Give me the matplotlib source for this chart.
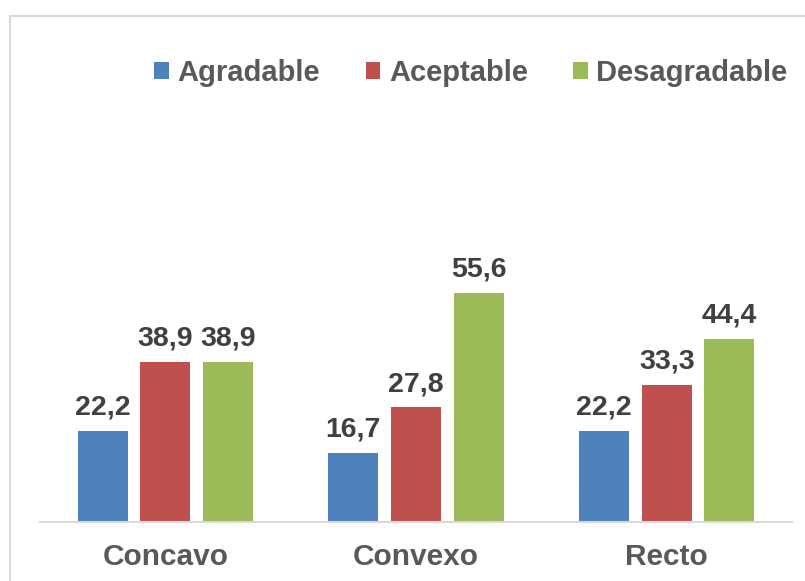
import matplotlib.pyplot as plt
import numpy as np
from matplotlib.patches import Patch, Rectangle

plt.rcParams['font.family'] = ['Liberation Sans', 'DejaVu Sans']

categories = ['Concavo', 'Convexo', 'Recto']
series = ['Agradable', 'Aceptable', 'Desagradable']
agradable = [22.2, 16.7, 22.2]
aceptable = [38.9, 27.8, 33.3]
desagradable = [38.9, 55.6, 44.4]
values = [agradable, aceptable, desagradable]
colors = ['#4F81BD', '#C0504D', '#9BBB59']

W, H = 805, 581
fig = plt.figure(figsize=(W / 100, H / 100), dpi=100)

# plot area in pixels
left_px, right_px, base_px = 40, 792, 522
ymax = 80
px_per_unit = 4.12
top_px = base_px - ymax * px_per_unit
ax = fig.add_axes([left_px / W, 1 - base_px / H,
                   (right_px - left_px) / W, (base_px - top_px) / H])

x = np.arange(len(categories))
width = 0.2
offsets = [-0.25, 0, 0.25]
for vals, off, col in zip(values, offsets, colors):
    bars = ax.bar(x + off, vals, width, color=col)
    for b, v in zip(bars, vals):
        ax.text(b.get_x() + b.get_width() / 2, v + 2.5, f'{v:.1f}'.replace('.', ','),
                ha='center', va='bottom', fontsize=20.5, fontweight='bold', color='#404040')

ax.set_xlim(-0.5, 2.5)
ax.set_ylim(0, ymax)
ax.set_yticks([])
ax.set_xticks(x)
ax.set_xticklabels(categories, fontsize=21.5, fontweight='bold', color='#595959')
ax.tick_params(axis='x', length=0, pad=15)
for s in ['top', 'right', 'left']:
    ax.spines[s].set_visible(False)
ax.spines['bottom'].set_color('#D9D9D9')
ax.spines['bottom'].set_linewidth(1.5)

handles = [Patch(facecolor=c, label=s) for c, s in zip(colors, series)]
leg = fig.legend(handles=handles, loc='center', ncol=3, frameon=False,
                 bbox_to_anchor=(471 / W, 1 - 73 / H),
                 prop={'size': 21, 'weight': 'bold'},
                 handlelength=0.5, handleheight=0.5, handletextpad=0.3,
                 columnspacing=1.55)
for t in leg.get_texts():
    t.set_color('#595959')

# chart frame (only top/left visible in the crop)
fig.patches.append(Rectangle((10 / W, -0.1), 1.2, 1 - 16 / H + 0.1,
                             transform=fig.transFigure, fill=False,
                             edgecolor='#D9D9D9', linewidth=1.5))

fig.savefig('out.png', dpi=100)
